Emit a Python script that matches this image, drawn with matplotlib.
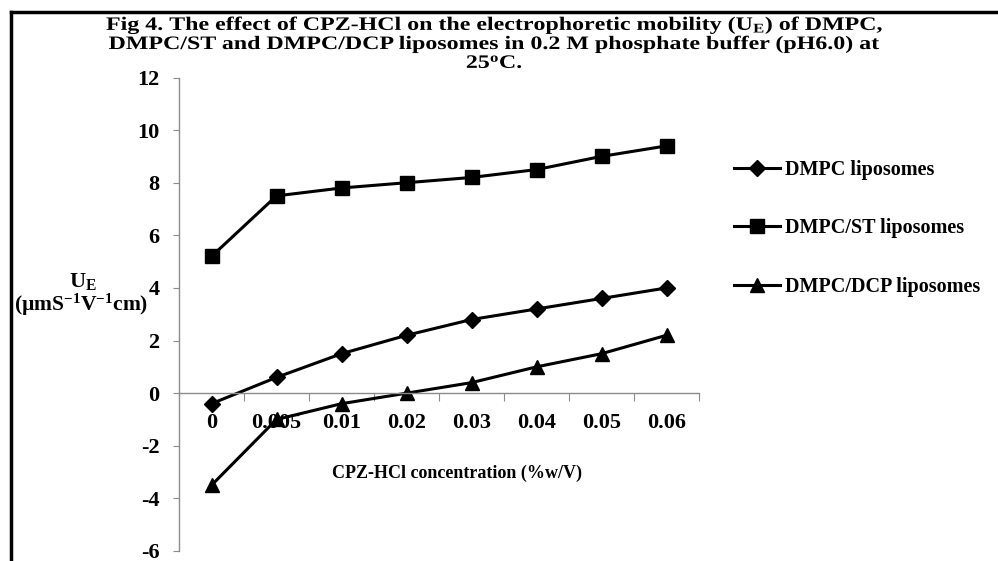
import matplotlib
matplotlib.use("Agg")
import matplotlib.pyplot as plt
from matplotlib.font_manager import FontProperties
from matplotlib.lines import Line2D
from matplotlib.patches import PathPatch
from matplotlib.textpath import TextPath
from matplotlib.transforms import Affine2D, IdentityTransform

# ---------------------------------------------------------------------------
# Data
# ---------------------------------------------------------------------------
conc_labels = ["0", "0.005", "0.01", "0.02", "0.03", "0.04", "0.05", "0.06"]
dmpc = [-0.4, 0.6, 1.5, 2.2, 2.8, 3.2, 3.6, 4.0]
dmpc_st = [5.2, 7.5, 7.8, 8.0, 8.2, 8.5, 9.0, 9.4]
dmpc_dcp = [-3.5, -1.0, -0.4, 0.0, 0.4, 1.0, 1.5, 2.2]
y_ticks = [-6, -4, -2, 0, 2, 4, 6, 8, 10, 12]

title_lines = [
    r"Fig 4. The effect of CPZ-HCl on the electrophoretic mobility (U$_\mathrm{E}$) of DMPC,",
    "DMPC/ST and DMPC/DCP liposomes in 0.2 M phosphate buffer (pH6.0) at",
    r"25$^\mathrm{o}$C.",
]

series = [
    ("DMPC liposomes", dmpc, "D", 8.5),
    ("DMPC/ST liposomes", dmpc_st, "s", 10.5),
    ("DMPC/DCP liposomes", dmpc_dcp, "^", 10.5),
]

plt.rcParams["font.family"] = ["Liberation Serif", "DejaVu Serif"]
plt.rcParams["font.weight"] = "bold"
plt.rcParams["mathtext.fontset"] = "custom"
plt.rcParams["mathtext.rm"] = "Liberation Serif:bold"
plt.rcParams["mathtext.bf"] = "Liberation Serif:bold"
plt.rcParams["mathtext.it"] = "Liberation Serif:bold"

W, H = 998, 561
fig = plt.figure(figsize=(W / 100, H / 100), dpi=100)
ax = fig.add_axes([179 / W, 1 - 551 / H, (699 - 179) / W, (551 - 77.5) / H])

x = list(range(len(conc_labels)))
handles = []
for label, vals, mk, ms in series:
    (ln,) = ax.plot(x, vals, color="black", lw=2.2, marker=mk, markersize=ms,
                    markerfacecolor="black", markeredgecolor="black", label=label)
    handles.append(ln)

ax.set_xlim(-0.5, len(conc_labels) - 0.5)
ax.set_ylim(-6, 12)
ax.set_yticks(y_ticks)
ax.set_yticklabels([str(v) for v in y_ticks], fontsize=16, fontweight="bold")

# category axis crossing at y = 0, ticks between categories
ax.spines["top"].set_visible(False)
ax.spines["right"].set_visible(False)
ax.spines["bottom"].set_position(("data", 0))
for s in ("left", "bottom"):
    ax.spines[s].set_color("#8c8c8c")
    ax.spines[s].set_linewidth(1.0)
ax.set_xticks([i - 0.5 for i in x[1:]] + [len(x) - 0.5])
ax.set_xticklabels([])
ax.tick_params(axis="x", direction="out", length=6, color="#8c8c8c")
ax.tick_params(axis="y", direction="out", length=4, color="#8c8c8c", pad=10)
for i, lab in enumerate(conc_labels):
    ax.text(i, -1.15, lab, ha="center", va="center", fontsize=16, fontweight="bold")

# axis labels
fig.text(457 / W, 1 - 473 / H, "CPZ-HCl concentration (%w/V)", ha="center", va="center",
         fontsize=13, fontweight="bold")
fig.text(83 / W, 1 - 281 / H, r"U$_\mathrm{E}$", ha="center", va="center", fontsize=16)
fig.text(81 / W, 1 - 305 / H, r"(µmS$^\mathrm{-1}$V$^\mathrm{-1}$cm)", ha="center", va="center",
         fontsize=15.5)

# title: the reference title is drawn horizontally stretched, so draw it as paths
title_prop = FontProperties(family="Liberation Serif", weight="bold")
for line, base in zip(title_lines, [30, 49, 68]):
    tp = TextPath((0, 0), line, size=19, prop=title_prop)
    bb = tp.get_extents()
    sx = 1.26
    tr = Affine2D().scale(sx, 1).translate(494 - (bb.x0 + bb.width / 2) * sx, H - base)
    fig.add_artist(PathPatch(tr.transform_path(tp), facecolor="black", edgecolor="none",
                             transform=IdentityTransform()))

fig.legend(handles=handles, loc="upper left", bbox_to_anchor=(716 / W, 1 - 142 / H),
           frameon=False, prop={"size": 14.5, "weight": "bold"}, labelspacing=1.9,
           handlelength=2.3, handletextpad=0.25)

# outer frame (left and top edges visible in the reference)
fig.add_artist(Line2D([11 / W, 11 / W], [0, 1 - 12 / H], color="black", lw=2.5))
fig.add_artist(Line2D([11 / W, 1], [1 - 12 / H, 1 - 12 / H], color="black", lw=2.5))

fig.savefig("out.png", dpi=100, facecolor="white")
